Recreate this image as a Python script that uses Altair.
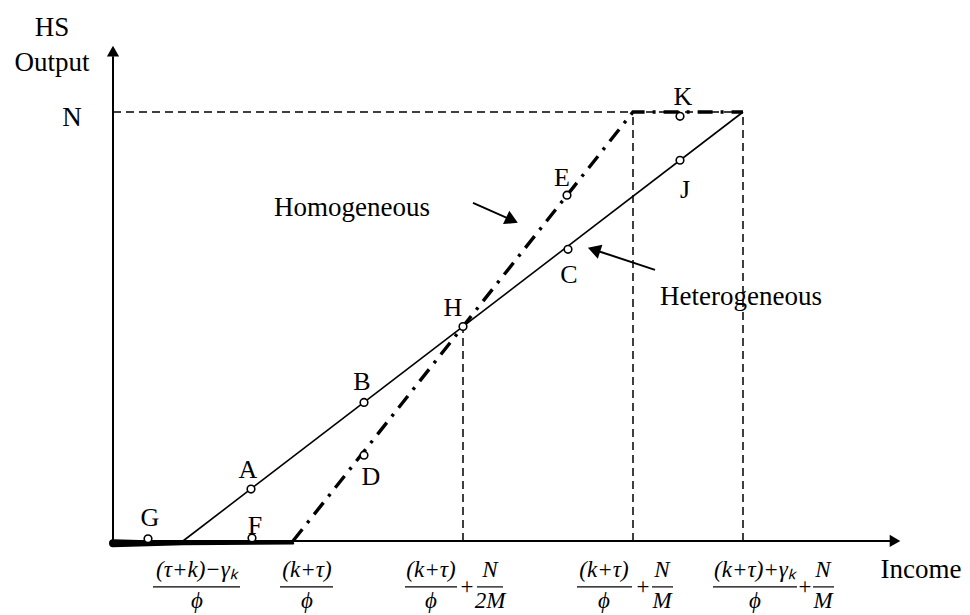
import altair as alt
import pandas as pd

FONT = "Liberation Serif"

# ---- curves (income on x, HS output on y; N = 1) ----
het_x = [0.7, 6.3]
het_y = [0.0, 1.0]
hom_x = [1.8, 5.2, 6.3]
hom_y = [0.0, 1.0, 1.0]

# thick zero-output segment along the income axis
base_x = [0.0, 0.7, 1.8]
base_w = [8.0, 4.0, 2.5]

# dashed guides
guide_x1 = [0.0, 3.5, 5.2, 6.3]
guide_y1 = [1.0, 0.0, 0.0, 0.0]
guide_x2 = [6.3, 3.5, 5.2, 6.3]
guide_y2 = [1.0, 0.5, 1.0, 1.0]

# marked points
pt_names = ["A", "B", "C", "D", "E", "F", "G", "H", "J", "K"]
pt_x = [1.38, 2.51, 4.55, 2.51, 4.54, 1.39, 0.35, 3.5, 5.67, 5.67]
pt_y = [0.121, 0.323, 0.68, 0.20, 0.806, 0.007, 0.005, 0.5, 0.8875, 0.99]
lab_x = [1.35, 2.49, 4.56, 2.58, 4.49, 1.42, 0.37, 3.40, 5.72, 5.70]
lab_y = [0.166, 0.371, 0.62, 0.149, 0.846, 0.035, 0.054, 0.543, 0.818, 1.035]

# other text
txt = ["HS", "Output", "N", "Homogeneous", "Heterogeneous", "Income"]
txt_x = [-0.61, -0.61, -0.41, 2.39, 6.28, 8.08]
txt_y = [1.196, 1.114, 0.986, 0.776, 0.569, -0.068]

# annotation arrows (line start -> head)
arr_x1 = [3.60, 5.42]
arr_y1 = [0.788, 0.632]
arr_x2 = [3.99, 4.81]
arr_y2 = [0.748, 0.679]
arr_ang = [115, 288]

# axis arrow heads
axh_x = [0.0, 7.82]
axh_y = [1.142, 0.0]
axh_ang = [0, 90]

# tick fractions on the income axis
num_txt = ["(τ+k)−γₖ", "(k+τ)", "(k+τ)", "N", "(k+τ)", "N", "(k+τ)+γₖ", "N"]
den_txt = ["ϕ", "ϕ", "ϕ", "2M", "ϕ", "M", "ϕ", "M"]
frac_c = [0.84, 1.94, 3.18, 3.77, 4.91, 5.49, 6.42, 7.10]
bar_a = [0.40, 1.67, 2.92, 3.64, 4.64, 5.39, 6.00, 7.00]
bar_b = [1.27, 2.20, 3.44, 3.90, 5.19, 5.60, 6.84, 7.21]
plus_x = [3.54, 5.30, 6.92]
num_y = -0.084
bar_y = -0.107
den_y = -0.156

xs = alt.Scale(domain=[-1.05, 8.49], nice=False, zero=False)
ys = alt.Scale(domain=[-0.1725, 1.2424], nice=False, zero=False)

def X(f):
    return alt.X(f, type="quantitative", scale=xs, axis=None)

def Y(f):
    return alt.Y(f, type="quantitative", scale=ys, axis=None)

# axes
axes_df = pd.DataFrame({"x1": [0.0, 0.0], "y1": [0.0, 0.0],
                        "x2": [7.80, 0.0], "y2": [0.0, 1.13]})
axes = alt.Chart(axes_df).mark_rule(color="black", strokeWidth=2).encode(
    x=X("x1"), y=Y("y1"), x2="x2", y2="y2")

axh_df = pd.DataFrame({"x": axh_x, "y": axh_y, "a": axh_ang})
axheads = alt.Chart(axh_df).mark_point(shape="triangle-up", filled=True,
                                       color="black", size=150, opacity=1).encode(
    x=X("x"), y=Y("y"), angle=alt.Angle("a:Q", scale=None))

base_df = pd.DataFrame({"x": base_x, "y": [-0.005] * 3, "w": base_w,
                        "o": list(range(3))})
base = alt.Chart(base_df).mark_trail(color="black").encode(
    x=X("x"), y=Y("y"), size=alt.Size("w:Q", scale=None, legend=None),
    order="o:Q")

g_df = pd.DataFrame({"x1": guide_x1, "y1": guide_y1, "x2": guide_x2, "y2": guide_y2})
guides = alt.Chart(g_df).mark_rule(color="black", strokeWidth=1.5,
                                   strokeDash=[8, 5]).encode(
    x=X("x1"), y=Y("y1"), x2="x2", y2="y2")

het_df = pd.DataFrame({"x": het_x, "y": het_y, "o": [0, 1]})
het = alt.Chart(het_df).mark_line(color="black", strokeWidth=1.6).encode(
    x=X("x"), y=Y("y"), order="o:Q")

hom_df = pd.DataFrame({"x": hom_x, "y": hom_y, "o": [0, 1, 2]})
hom = alt.Chart(hom_df).mark_line(color="black", strokeWidth=3.4,
                                  strokeDash=[15, 8, 3, 8]).encode(
    x=X("x"), y=Y("y"), order="o:Q")

arr_df = pd.DataFrame({"x1": arr_x1, "y1": arr_y1, "x2": arr_x2, "y2": arr_y2,
                       "a": arr_ang})
arr_lines = alt.Chart(arr_df).mark_rule(color="black", strokeWidth=2).encode(
    x=X("x1"), y=Y("y1"), x2="x2", y2="y2")
arr_heads = alt.Chart(arr_df).mark_point(shape="triangle-up", filled=True,
                                         color="black", size=220, opacity=1).encode(
    x=X("x2"), y=Y("y2"), angle=alt.Angle("a:Q", scale=None))

pt_df = pd.DataFrame({"x": pt_x, "y": pt_y, "n": pt_names})
points = alt.Chart(pt_df).mark_point(shape="circle", fill="white", fillOpacity=1,
                                     stroke="black", strokeWidth=1.6, size=58,
                                     opacity=1).encode(x=X("x"), y=Y("y"))

lab_df = pd.DataFrame({"x": lab_x, "y": lab_y, "t": pt_names})
labels = alt.Chart(lab_df).mark_text(font=FONT, fontSize=26, color="black",
                                     baseline="middle", align="center").encode(
    x=X("x"), y=Y("y"), text="t:N")

txt_df = pd.DataFrame({"x": txt_x, "y": txt_y, "t": txt})
texts = alt.Chart(txt_df).mark_text(font=FONT, fontSize=27, color="black",
                                    baseline="middle", align="center").encode(
    x=X("x"), y=Y("y"), text="t:N")

num_df = pd.DataFrame({"x": frac_c, "y": [num_y] * 8, "t": num_txt})
nums = alt.Chart(num_df).mark_text(font=FONT, fontSize=23, fontStyle="italic",
                                   color="black", baseline="alphabetic",
                                   align="center").encode(
    x=X("x"), y=Y("y"), text="t:N")

den_df = pd.DataFrame({"x": frac_c, "y": [den_y] * 8, "t": den_txt})
dens = alt.Chart(den_df).mark_text(font=FONT, fontSize=23, fontStyle="italic",
                                   color="black", baseline="alphabetic",
                                   align="center").encode(
    x=X("x"), y=Y("y"), text="t:N")

bar_df = pd.DataFrame({"x1": bar_a, "x2": bar_b, "y": [bar_y] * 8})
bars = alt.Chart(bar_df).mark_rule(color="black", strokeWidth=1.2).encode(
    x=X("x1"), x2="x2", y=Y("y"))

plus_df = pd.DataFrame({"x": plus_x, "y": [bar_y] * 3, "t": ["+"] * 3})
pluses = alt.Chart(plus_df).mark_text(font=FONT, fontSize=23, color="black",
                                      baseline="middle", align="center").encode(
    x=X("x"), y=Y("y"), text="t:N")

chart = alt.layer(
    guides, axes, axheads, base, het, hom, arr_lines, arr_heads,
    points, labels, texts, nums, dens, bars, pluses
).properties(
    width=954, height=607, padding=0,
    autosize=alt.AutoSizeParams(type="none")
).configure_view(stroke=None)

chart.save("out.html", embed_options={"renderer": "svg", "actions": False})
